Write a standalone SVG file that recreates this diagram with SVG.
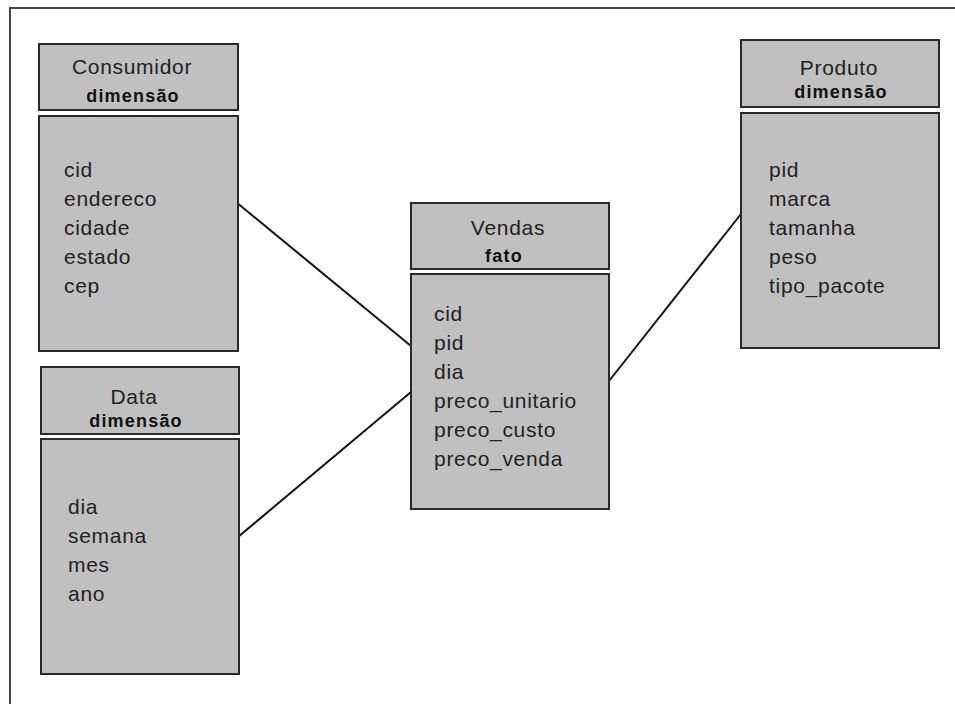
<svg xmlns="http://www.w3.org/2000/svg" width="955" height="704" viewBox="0 0 955 704">
<style>
.box{fill:#c0c0c0;stroke:#2a2a2a;stroke-width:2}
.t{font-family:"Liberation Sans",Arial,sans-serif;font-size:21px;letter-spacing:0.7px;fill:#222}
.b{font-family:"Liberation Sans",Arial,sans-serif;font-size:18px;font-weight:bold;letter-spacing:1.2px;fill:#111}
.c{text-anchor:middle}
.ln{stroke:#111;stroke-width:2;fill:none}
</style>
<rect width="955" height="704" fill="#fff"/>
<polyline points="10,706 10,8 957,8" fill="none" stroke="#444" stroke-width="2"/>
<g id="connectors">
<line class="ln" x1="236" y1="202" x2="411" y2="346"/>
<line class="ln" x1="238" y1="537" x2="411" y2="392"/>
<line class="ln" x1="609" y1="381" x2="741" y2="214"/>
</g>
<g id="consumidor">
<rect class="box" x="39" y="44" width="199" height="66"/>
<rect class="box" x="39" y="116" width="199" height="235"/>
<text class="t c" x="132" y="74">Consumidor</text>
<text class="b c" x="133" y="102">dimensão</text>
<text class="t" x="64" y="177">cid</text>
<text class="t" x="64" y="206">endereco</text>
<text class="t" x="64" y="235">cidade</text>
<text class="t" x="64" y="264">estado</text>
<text class="t" x="64" y="293">cep</text>
</g>
<g id="data">
<rect class="box" x="41" y="367" width="198" height="67"/>
<rect class="box" x="41" y="439" width="198" height="235"/>
<text class="t c" x="134" y="404">Data</text>
<text class="b c" x="136" y="427">dimensão</text>
<text class="t" x="68" y="514">dia</text>
<text class="t" x="68" y="543">semana</text>
<text class="t" x="68" y="572">mes</text>
<text class="t" x="68" y="601">ano</text>
</g>
<g id="vendas">
<rect class="box" x="411" y="203" width="198" height="66"/>
<rect class="box" x="411" y="274" width="198" height="235"/>
<text class="t c" x="508" y="235">Vendas</text>
<text class="b c" x="504" y="262">fato</text>
<text class="t" x="434" y="321">cid</text>
<text class="t" x="434" y="350">pid</text>
<text class="t" x="434" y="379">dia</text>
<text class="t" x="434" y="408">preco_unitario</text>
<text class="t" x="434" y="437">preco_custo</text>
<text class="t" x="434" y="466">preco_venda</text>
</g>
<g id="produto">
<rect class="box" x="741" y="40" width="198" height="67"/>
<rect class="box" x="741" y="113" width="198" height="235"/>
<text class="t c" x="839" y="75">Produto</text>
<text class="b c" x="841" y="98">dimensão</text>
<text class="t" x="769" y="177">pid</text>
<text class="t" x="769" y="206">marca</text>
<text class="t" x="769" y="235">tamanha</text>
<text class="t" x="769" y="264">peso</text>
<text class="t" x="769" y="293">tipo_pacote</text>
</g>
</svg>
